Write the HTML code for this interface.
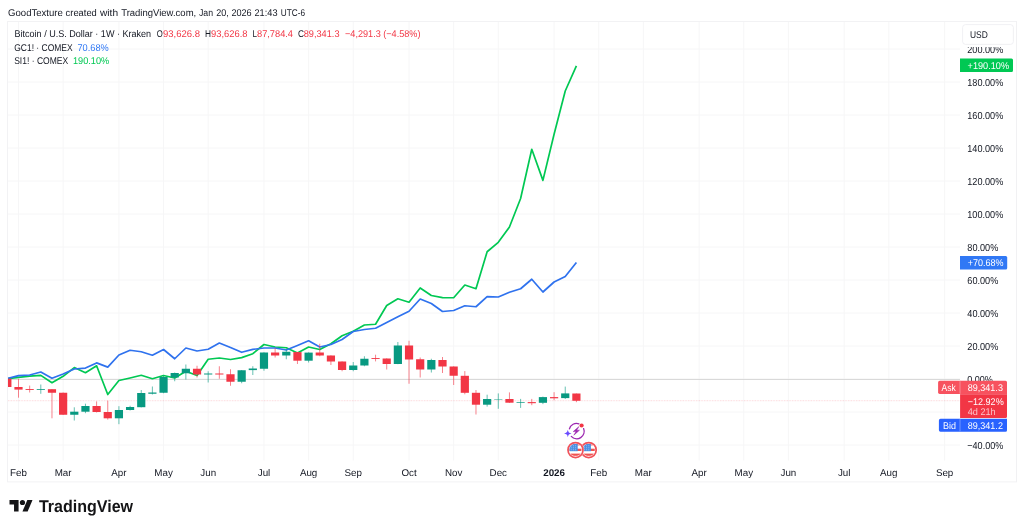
<!DOCTYPE html>
<html><head><meta charset="utf-8"><title>TradingView chart snapshot</title>
<style>
html,body{margin:0;padding:0;background:#fff}
body{width:1024px;height:530px;overflow:hidden;position:relative;font-family:"Liberation Sans",sans-serif}
svg{position:absolute;left:0;top:0;display:block}
text{font-family:"Liberation Sans",sans-serif;font-size:9.8px;text-rendering:geometricPrecision;fill:#131722}
.w{fill:#fff}
</style></head><body>
<svg width="1024" height="530" viewBox="0 0 1024 530">
<rect width="1024" height="530" fill="#fff"/>
<text y="15.7"><tspan x="8.1" textLength="54.7" lengthAdjust="spacingAndGlyphs">GoodTexture</tspan> <tspan x="65.6" textLength="31.2" lengthAdjust="spacingAndGlyphs">created</tspan> <tspan x="100" textLength="18.1" lengthAdjust="spacingAndGlyphs">with</tspan> <tspan x="121.2" textLength="75" lengthAdjust="spacingAndGlyphs">TradingView.com,</tspan> <tspan x="199.0" textLength="14.1" lengthAdjust="spacingAndGlyphs">Jan</tspan> <tspan x="216.2" textLength="12.5" lengthAdjust="spacingAndGlyphs">20,</tspan> <tspan x="231.4" textLength="20.3" lengthAdjust="spacingAndGlyphs">2026</tspan> <tspan x="254.5" textLength="23" lengthAdjust="spacingAndGlyphs">21:43</tspan> <tspan x="280.8" textLength="24.2" lengthAdjust="spacingAndGlyphs">UTC-6</tspan></text>
<path d="M18.50 21.5V460.5M63.13 21.5V460.5M118.92 21.5V460.5M163.55 21.5V460.5M208.18 21.5V460.5M263.97 21.5V460.5M308.61 21.5V460.5M353.24 21.5V460.5M409.03 21.5V460.5M453.66 21.5V460.5M498.29 21.5V460.5M554.08 21.5V460.5M598.71 21.5V460.5M643.35 21.5V460.5M699.14 21.5V460.5M743.77 21.5V460.5M788.40 21.5V460.5M844.19 21.5V460.5M888.82 21.5V460.5M944.61 21.5V460.5M8 49.05H960M8 82.05H960M8 115.05H960M8 148.05H960M8 181.05H960M8 214.05H960M8 247.05H960M8 280.05H960M8 313.05H960M8 346.05H960M8 379.05H960M8 412.05H960M8 445.05H960" stroke="#f6f6f7" stroke-width="1.0" fill="none"/>
<rect x="7.6" y="21.4" width="1008.9" height="460.5" fill="none" stroke="#f0f0f2" stroke-width="0.9"/>
<path d="M8 379.45H960" stroke="#cecece" stroke-width="0.8" fill="none"/>
<path d="M8 400.7H960" stroke="#f23645" stroke-width="0.8" stroke-dasharray="0.8 0.8" stroke-opacity="0.27" fill="none"/>
<g clip-path="url(#pane)">
<defs><clipPath id="pane"><rect x="8" y="21" width="952" height="440"/></clipPath></defs>
<polyline points="7.34,378.75 18.50,377.40 29.66,376.10 40.81,375.40 51.97,382.70 63.13,376.30 74.29,367.60 85.45,372.75 96.60,365.80 107.76,394.50 118.92,380.50 130.08,378.00 141.24,375.25 152.39,378.75 163.55,375.50 174.71,378.00 185.87,371.25 197.03,375.50 208.18,359.25 219.34,358.00 230.50,359.50 241.66,357.60 252.82,353.70 263.97,344.50 275.13,347.00 286.29,347.75 297.45,353.00 308.61,347.00 319.76,349.50 330.92,343.75 342.08,335.75 353.24,331.25 364.40,325.00 375.55,324.25 386.71,305.50 397.87,298.75 409.03,302.20 420.19,288.00 431.34,295.50 442.50,297.60 453.66,297.75 464.82,285.00 475.98,288.75 487.13,251.75 498.29,242.30 509.45,227.00 520.61,198.50 531.77,149.25 542.92,180.40 554.08,134.30 565.24,91.00 576.40,65.80" fill="none" stroke="#00c853" stroke-width="1.7" stroke-linejoin="round" stroke-linecap="butt"/>
<polyline points="7.34,378.50 18.50,375.60 29.66,375.00 40.81,372.00 51.97,378.25 63.13,374.00 74.29,369.00 85.45,368.10 96.60,362.90 107.76,367.10 118.92,355.00 130.08,350.25 141.24,351.75 152.39,355.25 163.55,349.50 174.71,358.75 185.87,348.00 197.03,351.00 208.18,349.25 219.34,343.00 230.50,347.50 241.66,352.30 252.82,349.40 263.97,348.00 275.13,348.00 286.29,350.00 297.45,345.50 308.61,340.75 319.76,347.00 330.92,344.50 342.08,339.50 353.24,331.50 364.40,329.50 375.55,328.25 386.71,322.50 397.87,316.75 409.03,311.25 420.19,299.00 431.34,303.50 442.50,311.50 453.66,310.50 464.82,305.75 475.98,306.75 487.13,296.60 498.29,297.00 509.45,292.25 520.61,288.75 531.77,279.25 542.92,292.00 554.08,282.00 565.24,276.50 576.40,262.50" fill="none" stroke="#2f72ee" stroke-width="1.7" stroke-linejoin="round" stroke-linecap="butt"/>
<path d="M7.34 378.75V387.00" stroke="#f23645" stroke-width="1" stroke-opacity="0.62"/><rect x="3.24" y="378.75" width="8.2" height="8.25" fill="#f23645"/>
<path d="M18.50 378.75V397.70" stroke="#f23645" stroke-width="1" stroke-opacity="0.62"/><rect x="14.40" y="387.00" width="8.2" height="2.60" fill="#f23645"/>
<path d="M29.66 385.60V392.50" stroke="#f23645" stroke-width="1" stroke-opacity="0.62"/><rect x="25.56" y="389.10" width="8.2" height="0.90" fill="#f23645"/>
<path d="M40.81 384.50V393.80" stroke="#089981" stroke-width="1" stroke-opacity="0.62"/><rect x="36.71" y="389.10" width="8.2" height="0.80" fill="#089981"/>
<path d="M51.97 389.00V418.30" stroke="#f23645" stroke-width="1" stroke-opacity="0.62"/><rect x="47.87" y="389.20" width="8.2" height="3.55" fill="#f23645"/>
<path d="M63.13 392.50V415.00" stroke="#f23645" stroke-width="1" stroke-opacity="0.62"/><rect x="59.03" y="392.75" width="8.2" height="22.00" fill="#f23645"/>
<path d="M74.29 407.30V420.50" stroke="#089981" stroke-width="1" stroke-opacity="0.62"/><rect x="70.19" y="411.70" width="8.2" height="3.05" fill="#089981"/>
<path d="M85.45 403.70V413.20" stroke="#089981" stroke-width="1" stroke-opacity="0.62"/><rect x="81.35" y="406.00" width="8.2" height="5.70" fill="#089981"/>
<path d="M96.60 401.40V412.50" stroke="#f23645" stroke-width="1" stroke-opacity="0.62"/><rect x="92.50" y="406.00" width="8.2" height="6.00" fill="#f23645"/>
<path d="M107.76 400.60V419.60" stroke="#f23645" stroke-width="1" stroke-opacity="0.62"/><rect x="103.66" y="412.00" width="8.2" height="6.30" fill="#f23645"/>
<path d="M118.92 406.20V424.20" stroke="#089981" stroke-width="1" stroke-opacity="0.62"/><rect x="114.82" y="410.00" width="8.2" height="8.30" fill="#089981"/>
<path d="M130.08 405.75V410.50" stroke="#089981" stroke-width="1" stroke-opacity="0.62"/><rect x="125.98" y="407.00" width="8.2" height="3.00" fill="#089981"/>
<path d="M141.24 390.00V407.40" stroke="#089981" stroke-width="1" stroke-opacity="0.62"/><rect x="137.14" y="393.00" width="8.2" height="14.20" fill="#089981"/>
<path d="M152.39 386.50V394.50" stroke="#089981" stroke-width="1" stroke-opacity="0.62"/><rect x="148.29" y="392.50" width="8.2" height="1.25" fill="#089981"/>
<path d="M163.55 375.50V393.25" stroke="#089981" stroke-width="1" stroke-opacity="0.62"/><rect x="159.45" y="377.00" width="8.2" height="15.75" fill="#089981"/>
<path d="M174.71 372.50V381.25" stroke="#089981" stroke-width="1" stroke-opacity="0.62"/><rect x="170.61" y="373.00" width="8.2" height="4.50" fill="#089981"/>
<path d="M185.87 364.50V379.50" stroke="#089981" stroke-width="1" stroke-opacity="0.62"/><rect x="181.77" y="368.75" width="8.2" height="4.50" fill="#089981"/>
<path d="M197.03 365.75V377.50" stroke="#f23645" stroke-width="1" stroke-opacity="0.62"/><rect x="192.93" y="368.75" width="8.2" height="5.75" fill="#f23645"/>
<path d="M208.18 371.25V382.50" stroke="#089981" stroke-width="1" stroke-opacity="0.62"/><rect x="204.08" y="373.50" width="8.2" height="1.00" fill="#089981"/>
<path d="M219.34 366.25V378.75" stroke="#f23645" stroke-width="1" stroke-opacity="0.62"/><rect x="215.24" y="373.50" width="8.2" height="1.00" fill="#f23645"/>
<path d="M230.50 369.25V385.75" stroke="#f23645" stroke-width="1" stroke-opacity="0.62"/><rect x="226.40" y="374.25" width="8.2" height="7.50" fill="#f23645"/>
<path d="M241.66 370.00V383.25" stroke="#089981" stroke-width="1" stroke-opacity="0.62"/><rect x="237.56" y="370.25" width="8.2" height="11.50" fill="#089981"/>
<path d="M252.82 366.25V375.00" stroke="#089981" stroke-width="1" stroke-opacity="0.62"/><rect x="248.72" y="368.50" width="8.2" height="1.60" fill="#089981"/>
<path d="M263.97 352.30V370.75" stroke="#089981" stroke-width="1" stroke-opacity="0.62"/><rect x="259.87" y="352.50" width="8.2" height="16.25" fill="#089981"/>
<path d="M275.13 348.00V357.50" stroke="#f23645" stroke-width="1" stroke-opacity="0.62"/><rect x="271.03" y="352.50" width="8.2" height="3.00" fill="#f23645"/>
<path d="M286.29 349.50V359.25" stroke="#089981" stroke-width="1" stroke-opacity="0.62"/><rect x="282.19" y="351.75" width="8.2" height="3.75" fill="#089981"/>
<path d="M297.45 351.90V364.00" stroke="#f23645" stroke-width="1" stroke-opacity="0.62"/><rect x="293.35" y="352.10" width="8.2" height="8.60" fill="#f23645"/>
<path d="M308.61 352.40V362.50" stroke="#089981" stroke-width="1" stroke-opacity="0.62"/><rect x="304.51" y="352.60" width="8.2" height="8.10" fill="#089981"/>
<path d="M319.76 343.75V356.25" stroke="#f23645" stroke-width="1" stroke-opacity="0.62"/><rect x="315.66" y="352.50" width="8.2" height="3.00" fill="#f23645"/>
<path d="M330.92 355.30V365.00" stroke="#f23645" stroke-width="1" stroke-opacity="0.62"/><rect x="326.82" y="355.50" width="8.2" height="6.00" fill="#f23645"/>
<path d="M342.08 361.30V371.25" stroke="#f23645" stroke-width="1" stroke-opacity="0.62"/><rect x="337.98" y="361.50" width="8.2" height="8.50" fill="#f23645"/>
<path d="M353.24 362.00V371.25" stroke="#089981" stroke-width="1" stroke-opacity="0.62"/><rect x="349.14" y="365.50" width="8.2" height="4.50" fill="#089981"/>
<path d="M364.40 356.25V366.25" stroke="#089981" stroke-width="1" stroke-opacity="0.62"/><rect x="360.30" y="358.75" width="8.2" height="6.75" fill="#089981"/>
<path d="M375.55 354.70V361.40" stroke="#f23645" stroke-width="1" stroke-opacity="0.62"/><rect x="371.45" y="358.00" width="8.2" height="0.90" fill="#f23645"/>
<path d="M386.71 358.30V369.50" stroke="#f23645" stroke-width="1" stroke-opacity="0.62"/><rect x="382.61" y="358.50" width="8.2" height="5.50" fill="#f23645"/>
<path d="M397.87 342.00V364.20" stroke="#089981" stroke-width="1" stroke-opacity="0.62"/><rect x="393.77" y="345.50" width="8.2" height="18.50" fill="#089981"/>
<path d="M409.03 340.75V383.75" stroke="#f23645" stroke-width="1" stroke-opacity="0.62"/><rect x="404.93" y="345.50" width="8.2" height="14.00" fill="#f23645"/>
<path d="M420.19 357.50V377.50" stroke="#f23645" stroke-width="1" stroke-opacity="0.62"/><rect x="416.09" y="359.25" width="8.2" height="10.25" fill="#f23645"/>
<path d="M431.34 358.75V372.50" stroke="#089981" stroke-width="1" stroke-opacity="0.62"/><rect x="427.24" y="360.00" width="8.2" height="9.50" fill="#089981"/>
<path d="M442.50 357.00V373.00" stroke="#f23645" stroke-width="1" stroke-opacity="0.62"/><rect x="438.40" y="360.00" width="8.2" height="6.50" fill="#f23645"/>
<path d="M453.66 366.30V385.00" stroke="#f23645" stroke-width="1" stroke-opacity="0.62"/><rect x="449.56" y="366.50" width="8.2" height="9.25" fill="#f23645"/>
<path d="M464.82 371.10V394.30" stroke="#f23645" stroke-width="1" stroke-opacity="0.62"/><rect x="460.72" y="375.80" width="8.2" height="17.00" fill="#f23645"/>
<path d="M475.98 390.00V414.50" stroke="#f23645" stroke-width="1" stroke-opacity="0.62"/><rect x="471.88" y="392.80" width="8.2" height="11.90" fill="#f23645"/>
<path d="M487.13 394.70V406.60" stroke="#089981" stroke-width="1" stroke-opacity="0.62"/><rect x="483.03" y="399.00" width="8.2" height="5.70" fill="#089981"/>
<path d="M498.29 393.40V408.80" stroke="#089981" stroke-width="1" stroke-opacity="0.62"/><rect x="494.19" y="399.00" width="8.2" height="0.45" fill="#089981"/>
<path d="M509.45 392.40V402.90" stroke="#f23645" stroke-width="1" stroke-opacity="0.62"/><rect x="505.35" y="399.00" width="8.2" height="3.70" fill="#f23645"/>
<path d="M520.61 398.90V407.90" stroke="#089981" stroke-width="1" stroke-opacity="0.62"/><rect x="516.51" y="402.00" width="8.2" height="0.70" fill="#089981"/>
<path d="M531.77 398.90V405.20" stroke="#f23645" stroke-width="1" stroke-opacity="0.62"/><rect x="527.67" y="402.10" width="8.2" height="1.10" fill="#f23645"/>
<path d="M542.92 396.60V404.10" stroke="#089981" stroke-width="1" stroke-opacity="0.62"/><rect x="538.82" y="397.10" width="8.2" height="5.70" fill="#089981"/>
<path d="M554.08 392.20V400.20" stroke="#f23645" stroke-width="1" stroke-opacity="0.62"/><rect x="549.98" y="397.10" width="8.2" height="1.20" fill="#f23645"/>
<path d="M565.24 386.60V399.00" stroke="#089981" stroke-width="1" stroke-opacity="0.62"/><rect x="561.14" y="393.40" width="8.2" height="4.70" fill="#089981"/>
<path d="M576.40 393.50V402.20" stroke="#f23645" stroke-width="1" stroke-opacity="0.62"/><rect x="572.30" y="393.50" width="8.2" height="7.30" fill="#f23645"/>
</g>
<text x="18.5" y="476" text-anchor="middle">Feb</text>
<text x="63.1" y="476" text-anchor="middle">Mar</text>
<text x="118.9" y="476" text-anchor="middle">Apr</text>
<text x="163.6" y="476" text-anchor="middle">May</text>
<text x="208.2" y="476" text-anchor="middle">Jun</text>
<text x="264.0" y="476" text-anchor="middle">Jul</text>
<text x="308.6" y="476" text-anchor="middle">Aug</text>
<text x="353.2" y="476" text-anchor="middle">Sep</text>
<text x="409.0" y="476" text-anchor="middle">Oct</text>
<text x="453.7" y="476" text-anchor="middle">Nov</text>
<text x="498.3" y="476" text-anchor="middle">Dec</text>
<text x="554.1" y="476" text-anchor="middle" font-weight="bold">2026</text>
<text x="598.7" y="476" text-anchor="middle">Feb</text>
<text x="643.3" y="476" text-anchor="middle">Mar</text>
<text x="699.1" y="476" text-anchor="middle">Apr</text>
<text x="743.8" y="476" text-anchor="middle">May</text>
<text x="788.4" y="476" text-anchor="middle">Jun</text>
<text x="844.2" y="476" text-anchor="middle">Jul</text>
<text x="888.8" y="476" text-anchor="middle">Aug</text>
<text x="944.6" y="476" text-anchor="middle">Sep</text>
<text x="967.3" y="52.55" textLength="36" lengthAdjust="spacingAndGlyphs" style="font-size:10.1px;">200.00%</text>
<text x="967.3" y="85.55" textLength="36" lengthAdjust="spacingAndGlyphs" style="font-size:10.1px;">180.00%</text>
<text x="967.3" y="118.55" textLength="36" lengthAdjust="spacingAndGlyphs" style="font-size:10.1px;">160.00%</text>
<text x="967.3" y="151.55" textLength="36" lengthAdjust="spacingAndGlyphs" style="font-size:10.1px;">140.00%</text>
<text x="967.3" y="184.55" textLength="36" lengthAdjust="spacingAndGlyphs" style="font-size:10.1px;">120.00%</text>
<text x="967.3" y="217.55" textLength="36" lengthAdjust="spacingAndGlyphs" style="font-size:10.1px;">100.00%</text>
<text x="967.3" y="250.55" textLength="31" lengthAdjust="spacingAndGlyphs" style="font-size:10.1px;">80.00%</text>
<text x="967.3" y="283.55" textLength="31" lengthAdjust="spacingAndGlyphs" style="font-size:10.1px;">60.00%</text>
<text x="967.3" y="316.55" textLength="31" lengthAdjust="spacingAndGlyphs" style="font-size:10.1px;">40.00%</text>
<text x="967.3" y="349.55" textLength="31" lengthAdjust="spacingAndGlyphs" style="font-size:10.1px;">20.00%</text>
<text x="967.3" y="382.55" textLength="25.6" lengthAdjust="spacingAndGlyphs" style="font-size:10.1px;">0.00%</text>
<text x="967.3" y="448.55" textLength="36" lengthAdjust="spacingAndGlyphs" style="font-size:10.1px;">−40.00%</text>
<rect x="961" y="22" width="54.5" height="25.1" fill="#fff"/>
<rect x="962.6" y="24.6" width="50.8" height="19.8" rx="3" fill="#fff" stroke="#ececf0" stroke-width="0.8"/>
<text x="970" y="37.5" textLength="17.8" lengthAdjust="spacingAndGlyphs">USD</text>
<path d="M960 58.6h51.5a1.5 1.5 0 0 1 1.5 1.5v10.3a1.5 1.5 0 0 1 -1.5 1.5H960z" fill="#00c853"/>
<text x="967.6" y="68.5" textLength="41.5" lengthAdjust="spacingAndGlyphs" style="fill:#fff;">+190.10%</text>
<path d="M960 256h45.7a1.5 1.5 0 0 1 1.5 1.5v10.5a1.5 1.5 0 0 1 -1.5 1.5H960z" fill="#3078f5"/>
<text x="967.8" y="266.05" textLength="35.8" lengthAdjust="spacingAndGlyphs" style="fill:#fff;">+70.68%</text>
<path d="M960.3 380.8v13.1h-20.6a1.6 1.6 0 0 1 -1.6 -1.6v-9.9a1.6 1.6 0 0 1 1.6 -1.6z" fill="#f7525f"/>
<path d="M960.1 380.8h45.4a1.5 1.5 0 0 1 1.5 1.5v11.9h-46.9z" fill="#f7525f"/>
<text x="941.5" y="390.8" textLength="14.2" lengthAdjust="spacingAndGlyphs" style="fill:#fff;">Ask</text>
<text x="967.8" y="390.8" textLength="35.1" lengthAdjust="spacingAndGlyphs" style="fill:#fff;">89,341.3</text>
<path d="M960.1 394.3h46.9v22.3a1.5 1.5 0 0 1 -1.5 1.5h-45.4z" fill="#f23645"/>
<text x="967.7" y="404.6" textLength="36" lengthAdjust="spacingAndGlyphs" style="fill:#fff;">−12.92%</text>
<text x="967.7" y="415.1" textLength="28" lengthAdjust="spacingAndGlyphs" style="fill:#fff;" fill-opacity="0.7">4d 21h</text>
<path d="M960.3 418.8v12.9h-19.8a1.6 1.6 0 0 1 -1.6 -1.6v-9.7a1.6 1.6 0 0 1 1.6 -1.6z" fill="#2962ff"/>
<path d="M960.1 418.8h46.9v11.4a1.5 1.5 0 0 1 -1.5 1.5h-45.4z" fill="#2962ff"/>
<path d="M959.9 381.2V393.6M959.9 419.2V431.3" stroke="#fff" stroke-opacity="0.4" stroke-width="0.7"/>
<text x="942.9" y="428.8" textLength="13" lengthAdjust="spacingAndGlyphs" style="fill:#fff;">Bid</text>
<text x="967.8" y="428.8" textLength="35.1" lengthAdjust="spacingAndGlyphs" style="fill:#fff;">89,341.2</text>
<text x="14.5" y="37.0" textLength="136.6" lengthAdjust="spacingAndGlyphs">Bitcoin / U.S. Dollar · 1W · Kraken</text>
<text x="156.8" y="37.0" textLength="6" lengthAdjust="spacingAndGlyphs">O</text>
<text x="163" y="37.0" textLength="37" lengthAdjust="spacingAndGlyphs" style="fill:#f23645;">93,626.8</text>
<text x="205" y="37.0" textLength="6" lengthAdjust="spacingAndGlyphs">H</text>
<text x="211" y="37.0" textLength="36.5" lengthAdjust="spacingAndGlyphs" style="fill:#f23645;">93,626.8</text>
<text x="252.5" y="37.0" textLength="4.5" lengthAdjust="spacingAndGlyphs">L</text>
<text x="257" y="37.0" textLength="36" lengthAdjust="spacingAndGlyphs" style="fill:#f23645;">87,784.4</text>
<text x="298" y="37.0" textLength="6" lengthAdjust="spacingAndGlyphs">C</text>
<text x="303.75" y="37.0" textLength="35.75" lengthAdjust="spacingAndGlyphs" style="fill:#f23645;">89,341.3</text>
<text x="345" y="37.0" textLength="75.5" lengthAdjust="spacingAndGlyphs" style="fill:#f23645;">−4,291.3 (−4.58%)</text>
<text x="14.2" y="50.7" textLength="58.5" lengthAdjust="spacingAndGlyphs">GC1! · COMEX</text>
<text x="77.5" y="50.7" textLength="31.2" lengthAdjust="spacingAndGlyphs" style="fill:#3078f5;">70.68%</text>
<text x="14.2" y="64.4" textLength="54" lengthAdjust="spacingAndGlyphs">SI1! · COMEX</text>
<text x="73" y="64.4" textLength="36.2" lengthAdjust="spacingAndGlyphs" style="fill:#00c853;">190.10%</text>
<g transform="translate(-0.6,0)"><g fill="none" stroke="#9c27b0" stroke-width="1.3" stroke-linecap="round">
<path d="M579.5 423.8A7.4 7.4 0 0 0 570.0 428.9"/>
<path d="M584.2 428.6A7.4 7.4 0 0 1 571.9 436.4"/>
</g>
<path d="M579.5 426.6L573.8 431.6H576.6L574.4 435.2L580.1 430.2H577.3Z" fill="#9c27b0" stroke="#9c27b0" stroke-width="0.5" stroke-linejoin="round"/>
<circle cx="582.2" cy="425.5" r="2.1" fill="#f23645"/>
<path d="M568.4 429.8c.5 2.5 1.2 3.3 3.8 3.7c-2.6 .5-3.3 1.200-3.8 3.700c-.5-2.500-1.200-3.300-3.800-3.700c2.600-.5 3.300-1.200 3.800-3.700z" fill="#6a4cff"/></g>
<g><defs><clipPath id="fl2"><circle cx="588.7" cy="450.0" r="6.2"/></clipPath></defs><circle cx="588.7" cy="450.0" r="8.4" fill="#fff"/><circle cx="588.7" cy="450.0" r="7.5" fill="#fff" stroke="#f0525a" stroke-width="1.75"/><g clip-path="url(#fl2)"><rect x="582.5" y="443.8" width="12.4" height="12.4" fill="#fff"/><rect x="582.5" y="443.80" width="12.4" height="1.60" fill="#ef5350"/><rect x="582.5" y="448.70" width="12.4" height="2.30" fill="#ef5350"/><rect x="582.5" y="453.60" width="12.4" height="2.20" fill="#ef5350"/><rect x="582.5" y="443.6" width="8.4" height="7.6" fill="#4a90e2"/><circle cx="584.4" cy="445.7" r="0.5" fill="#fff" fill-opacity="0.55"/><circle cx="584.4" cy="447.7" r="0.5" fill="#fff" fill-opacity="0.55"/><circle cx="584.4" cy="449.7" r="0.5" fill="#fff" fill-opacity="0.55"/><circle cx="586.6" cy="445.7" r="0.5" fill="#fff" fill-opacity="0.55"/><circle cx="586.6" cy="447.7" r="0.5" fill="#fff" fill-opacity="0.55"/><circle cx="586.6" cy="449.7" r="0.5" fill="#fff" fill-opacity="0.55"/><circle cx="588.8" cy="445.7" r="0.5" fill="#fff" fill-opacity="0.55"/><circle cx="588.8" cy="447.7" r="0.5" fill="#fff" fill-opacity="0.55"/><circle cx="588.8" cy="449.7" r="0.5" fill="#fff" fill-opacity="0.55"/></g></g>
<g><defs><clipPath id="fl1"><circle cx="575.5" cy="450.0" r="6.2"/></clipPath></defs><circle cx="575.5" cy="450.0" r="8.4" fill="#fff"/><circle cx="575.5" cy="450.0" r="7.5" fill="#fff" stroke="#f0525a" stroke-width="1.75"/><g clip-path="url(#fl1)"><rect x="569.3" y="443.8" width="12.4" height="12.4" fill="#fff"/><rect x="569.3" y="443.80" width="12.4" height="1.60" fill="#ef5350"/><rect x="569.3" y="448.70" width="12.4" height="2.30" fill="#ef5350"/><rect x="569.3" y="453.60" width="12.4" height="2.20" fill="#ef5350"/><rect x="569.3" y="443.6" width="8.4" height="7.6" fill="#4a90e2"/><circle cx="571.2" cy="445.7" r="0.5" fill="#fff" fill-opacity="0.55"/><circle cx="571.2" cy="447.7" r="0.5" fill="#fff" fill-opacity="0.55"/><circle cx="571.2" cy="449.7" r="0.5" fill="#fff" fill-opacity="0.55"/><circle cx="573.4" cy="445.7" r="0.5" fill="#fff" fill-opacity="0.55"/><circle cx="573.4" cy="447.7" r="0.5" fill="#fff" fill-opacity="0.55"/><circle cx="573.4" cy="449.7" r="0.5" fill="#fff" fill-opacity="0.55"/><circle cx="575.6" cy="445.7" r="0.5" fill="#fff" fill-opacity="0.55"/><circle cx="575.6" cy="447.7" r="0.5" fill="#fff" fill-opacity="0.55"/><circle cx="575.6" cy="449.7" r="0.5" fill="#fff" fill-opacity="0.55"/></g></g>
<g transform="translate(9.5,497.3) scale(0.648)" fill="#141416"><path d="M14 22H7V11H0V4h14v18z"/><circle cx="20" cy="8" r="4"/><path d="M28 22h-8l7.5-18h8L28 22z"/></g>
<text x="38.9" y="512" textLength="94.2" lengthAdjust="spacingAndGlyphs" style="fill:#141416;font-size:17px;" font-weight="bold">TradingView</text>
</svg>
</body></html>
